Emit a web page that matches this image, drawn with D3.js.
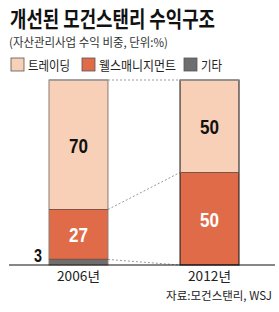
<!DOCTYPE html>
<html>
<head>
<meta charset="utf-8">
<script src="https://cdn.jsdelivr.net/npm/d3@7"></script>
<style>
body { margin: 0; background: #fff; }
text { font-family: "Noto Sans CJK KR", sans-serif; }
.num { font-family: "Liberation Sans", Arial, sans-serif; font-weight: bold; }
</style>
</head>
<body>
<div id="chart"></div>
<script>
// data
var years    = ["2006년", "2012년"];
var series   = ["트레이딩", "웰스매니지먼트", "기타"];
var trading  = [70, 50];
var wealth   = [27, 50];
var other    = [3, 0];
var colors   = ["#f8d0b8", "#e06b48", "#6e6e6e"];

var width = 279, height = 312;
var svg = d3.select("#chart").append("svg")
    .attr("width", width)
    .attr("height", height);

// title + subtitle
svg.append("text")
    .attr("x", 10).attr("y", 27)
    .style("font-size", "22px").style("font-weight", "bold").attr("fill", "#111")
    .attr("textLength", 205).attr("lengthAdjust", "spacingAndGlyphs")
    .text("개선된 모건스탠리 수익구조");
svg.append("text")
    .attr("x", 9).attr("y", 47)
    .style("font-size", "12px").attr("fill", "#333")
    .attr("textLength", 159).attr("lengthAdjust", "spacingAndGlyphs")
    .text("(자산관리사업 수익 비중, 단위:%)");

// legend
var legX = [11, 82, 184];
var legW = [42, 77, 21];
var leg = svg.selectAll(".leg").data(series).enter().append("g")
    .attr("transform", function (d, i) { return "translate(" + legX[i] + ",58)"; });
leg.append("rect")
    .attr("width", 13).attr("height", 13)
    .attr("fill", function (d, i) { return colors[i]; })
    .attr("stroke", "#555").attr("stroke-width", 0.8);
leg.append("text")
    .attr("x", 17).attr("y", 12)
    .style("font-size", "13px").attr("fill", "#222")
    .attr("textLength", function (d, i) { return legW[i]; })
    .attr("lengthAdjust", "spacingAndGlyphs")
    .text(function (d) { return d; });

// scales
var x = d3.scaleBand().domain(years).range([30, 258]).paddingInner(0.55).paddingOuter(0.145);
var y = d3.scaleLinear().domain([0, 100]).range([265, 80]);

// stack
var rows = years.map(function (yr, i) {
    return { year: yr, "트레이딩": trading[i], "웰스매니지먼트": wealth[i], "기타": other[i] };
});
var stack = d3.stack().keys(["기타", "웰스매니지먼트", "트레이딩"])(rows);
var colorOf = { "트레이딩": colors[0], "웰스매니지먼트": colors[1], "기타": colors[2] };

// connector dotted lines between bars
var bounds = [[100, 100], [30, 50], [3, 0]];
svg.selectAll(".conn").data(bounds).enter().append("line")
    .attr("x1", x(years[0]) + x.bandwidth())
    .attr("x2", x(years[1]))
    .attr("y1", function (d) { return y(d[0]); })
    .attr("y2", function (d) { return y(d[1]); })
    .attr("stroke", "#999").attr("stroke-width", 1)
    .attr("stroke-dasharray", "2,2");

var layers = svg.selectAll(".layer").data(stack).enter().append("g")
    .attr("fill", function (d) { return colorOf[d.key]; });
layers.selectAll("rect").data(function (d) { return d; }).enter().append("rect")
    .attr("x", function (d) { return x(d.data.year); })
    .attr("y", function (d) { return y(d[1]); })
    .attr("width", x.bandwidth())
    .attr("height", function (d) { return y(d[0]) - y(d[1]); });

// outlines
svg.append("rect")
    .attr("x", x(years[0])).attr("y", y(100))
    .attr("width", x.bandwidth()).attr("height", y(0) - y(100))
    .attr("fill", "none").attr("stroke", "#8a7b73").attr("stroke-width", 1);
svg.append("rect")
    .attr("x", x(years[1])).attr("y", y(100))
    .attr("width", x.bandwidth()).attr("height", y(0) - y(100))
    .attr("fill", "none").attr("stroke", "#111").attr("stroke-width", 1);
// segment dividers
[[0, 30], [0, 3], [1, 50]].forEach(function (p) {
    svg.append("line")
        .attr("x1", x(years[p[0]])).attr("x2", x(years[p[0]]) + x.bandwidth())
        .attr("y1", y(p[1])).attr("y2", y(p[1]))
        .attr("stroke", "#7a5548").attr("stroke-width", 1.2);
});
years.forEach(function (yr) {
    svg.append("line")
        .attr("x1", x(yr)).attr("x2", x(yr) + x.bandwidth())
        .attr("y1", y(100)).attr("y2", y(100))
        .attr("stroke", "#9a9a9a").attr("stroke-width", 1.5);
});

// value labels (condensed digits)
function numW(v) { return String(v).length * 9.5; }
years.forEach(function (yr, i) {
    var cx = x(yr) + x.bandwidth() / 2;
    svg.append("text").attr("class", "num")
        .attr("x", cx).attr("y", y(other[i] + wealth[i] + trading[i] / 2) + 8)
        .attr("text-anchor", "middle").style("font-size", "21px").attr("fill", "#111")
        .attr("textLength", numW(trading[i])).attr("lengthAdjust", "spacingAndGlyphs")
        .text(trading[i]);
    svg.append("text").attr("class", "num")
        .attr("x", cx).attr("y", y(other[i] + wealth[i] / 2) + 8)
        .attr("text-anchor", "middle").style("font-size", "21px").attr("fill", "#fff")
        .attr("textLength", numW(wealth[i])).attr("lengthAdjust", "spacingAndGlyphs")
        .text(wealth[i]);
});
svg.append("text").attr("class", "num")
    .attr("x", x(years[0]) - 7).attr("y", y(0) - 3)
    .attr("text-anchor", "end").style("font-size", "19px").attr("fill", "#111")
    .attr("textLength", 8).attr("lengthAdjust", "spacingAndGlyphs")
    .text(other[0]);

// baseline + axis labels
var xAxis = d3.axisBottom(x).tickSize(0).tickPadding(7);
var ax = svg.append("g").attr("transform", "translate(0," + y(0) + ")").call(xAxis);
ax.select(".domain").remove();
ax.selectAll("text").style("font-size", "13px").attr("fill", "#222")
    .style("font-family", "'Noto Sans CJK KR', sans-serif")
    .attr("textLength", 43).attr("lengthAdjust", "spacingAndGlyphs");
svg.append("line")
    .attr("x1", 9).attr("x2", 275)
    .attr("y1", y(0)).attr("y2", y(0))
    .attr("stroke", "#111").attr("stroke-width", 1.2);

svg.append("text")
    .attr("x", 272).attr("y", 300)
    .attr("text-anchor", "end").style("font-size", "11.5px").attr("fill", "#222")
    .text("자료:모건스탠리, WSJ");
</script>
</body>
</html>
